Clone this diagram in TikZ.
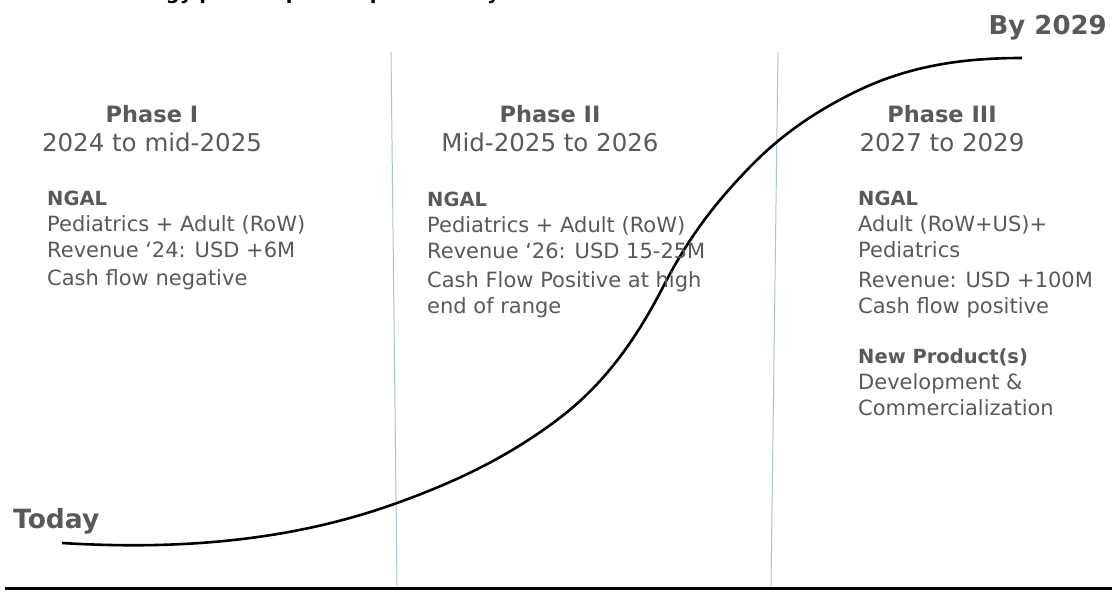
\documentclass[tikz,border=0pt]{standalone}
\usepackage{fontspec}
\setmainfont{DejaVu Sans}
\usetikzlibrary{calc}
\definecolor{txtgray}{HTML}{595959}
\definecolor{rulegray}{HTML}{A9C3CF}
\newcommand{\blockhead}[1]{{\bfseries\fontsize{19.5}{26}\selectfont #1}}

\begin{document}
\begin{tikzpicture}[x=1pt,y=-1pt,
    head/.style={anchor=base,inner sep=0pt,text=txtgray,font=\bfseries\fontsize{22.5}{27}\selectfont},
    period/.style={anchor=base,inner sep=0pt,text=txtgray,font=\fontsize{24.5}{29}\selectfont},
    body/.style={anchor=north west,inner sep=0pt,align=left,text=txtgray,font=\fontsize{21}{26}\selectfont},
    marker/.style={inner sep=0pt,text=txtgray,font=\bfseries\fontsize{26.5}{30}\selectfont},
    divider/.style={draw=rulegray,line width=1pt}]
    \useasboundingbox (0,0) rectangle (1112,594);
    % title, cut off at the top edge
    \node[anchor=base west,inner sep=0pt,font=\bfseries\fontsize{19.5}{24}\selectfont] (title) at (97,-0.5) {Strategy phased plan to profitability};
    % phase dividers and base line
    \draw [divider] (391,52) -- (397,586);
    \draw [divider] (778,52) -- (771,586);
    \draw [line width=3pt] (5,588) -- (1112,588);
    % growth curve
    \draw [line width=2.6pt] (62,543) .. controls (108,545.8) and (154,546.2) .. (200,543)
        .. controls (265.7,538.4) and (331.3,526.7) .. (397,503)
        .. controls (450.3,483.8) and (503.7,460) .. (557,420)
        .. controls (592.3,393.5) and (627.7,355.9) .. (663,287)
        .. controls (691,232.4) and (719,199.4) .. (747,170)
        .. controls (782.3,132.9) and (817.7,110.7) .. (853,93)
        .. controls (909.3,64.8) and (965.7,58) .. (1022,58);
    \node[marker,anchor=base west] (today) at (13,528) {Today};
    \node[marker,anchor=base east,font=\bfseries\fontsize{26}{30}\selectfont] (goal) at (1107,35) {By 2029};
    % Phase I
    \node[head] (phaseI) at (152,122) {Phase I};
    \node[period] (dateI) at (152,151) {2024 to mid-2025};
    \node[body] (textI) at (47,190.8) {\blockhead{NGAL}\\ Pediatrics + Adult (RoW)\\ Revenue ‘24: USD +6M\\[2pt] Cash flow negative};
    % Phase II
    \node[head] (phaseII) at (550,122) {Phase II};
    \node[period] (dateII) at (550,151) {Mid-2025 to 2026};
    \node[body] (textII) at (427,191.8) {\blockhead{NGAL}\\ Pediatrics + Adult (RoW)\\ Revenue ‘26: USD 15-25M\\[3pt] Cash Flow Positive at high\\ end of range};
    % Phase III
    \node[head] (phaseIII) at (942,122) {Phase III};
    \node[period] (dateIII) at (942,151) {2027 to 2029};
    \node[body] (textIII) at (858,190.8) {\blockhead{NGAL}\\ Adult (RoW+US)+\\ Pediatrics\\[4pt] Revenue: USD +100M\\ Cash flow positive\\[24pt] \blockhead{New Product(s)}\\ Development \&\\ Commercialization};
\end{tikzpicture}
\end{document}
